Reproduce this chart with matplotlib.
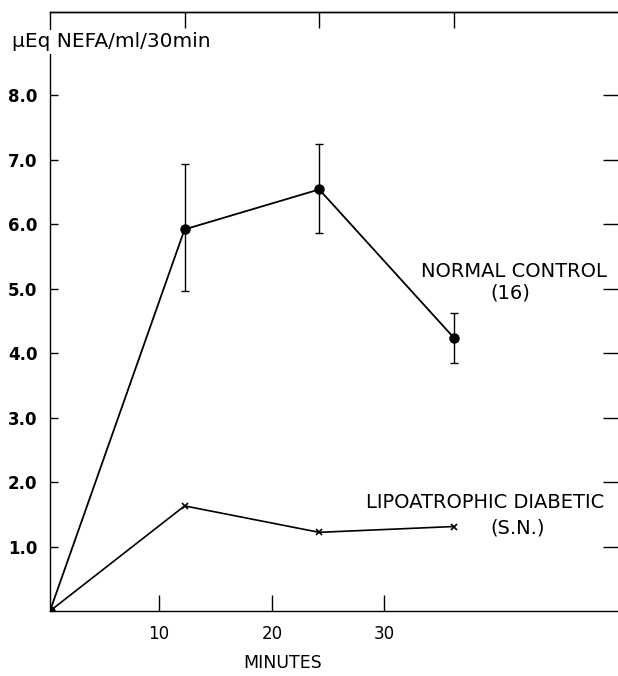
import matplotlib.pyplot as plt

# minutes after injection
minutes = [0, 10, 20, 30]

# normal control (16), mean with error bars
normal = [0.0, 5.92, 6.54, 4.24]
normal_err_low = [0.0, 0.95, 0.67, 0.40]
normal_err_high = [0.0, 1.02, 0.70, 0.39]

# lipoatrophic diabetic (S.N.)
lipo = [0.0, 1.63, 1.22, 1.31]

y_ticks = [1, 2, 3, 4, 5, 6, 7, 8]
y_labels = ['1.0', '2.0', '3.0', '4.0', '5.0', '6.0', '7.0', '8.0']
# bottom tick labels sit offset from the points in the original figure
bottom_tick_pos = [8.1, 16.5, 24.8]
bottom_tick_labels = ['10', '20', '30']
top_tick_pos = [10, 20, 30]

plt.rcParams['font.family'] = ['DejaVu Sans']

fig = plt.figure(figsize=(6.18, 6.76), dpi=100)
ax = fig.add_axes([0.0809, 0.0962, 0.9191, 0.8858])

ax.errorbar(minutes[1:], normal[1:], yerr=[normal_err_low[1:], normal_err_high[1:]],
            fmt='none', ecolor='black', elinewidth=1.0, capsize=3.2, capthick=1.0)
ax.plot(minutes, normal, color='black', lw=1.3, marker='o', ms=6.5)
ax.plot(minutes, lipo, color='black', lw=1.2, marker='x', ms=5, mew=1.2)

ax.set_xlim(0, 42.2)
ax.set_ylim(0, 9.29)

for s in ['left', 'bottom', 'top']:
    ax.spines[s].set_linewidth(1.0)
ax.spines['right'].set_visible(False)

ax.set_yticks(y_ticks)
ax.set_yticklabels(y_labels, fontsize=12, fontweight='bold')
ax.tick_params(axis='y', direction='in', length=6, width=1.0, pad=9,
               right=True)

ax.set_xticks(bottom_tick_pos)
ax.set_xticklabels(bottom_tick_labels, fontsize=12)
ax.tick_params(axis='x', direction='in', length=11.5, width=1.0, pad=10)

# right-side ticks are longer than the left ones
for t in ax.yaxis.get_major_ticks():
    t.tick2line.set_markersize(11)

top = ax.secondary_xaxis('top')
top.set_xticks(top_tick_pos)
top.set_xticklabels([])
top.tick_params(direction='in', length=11.5, width=1.0)
top.spines['top'].set_linewidth(1.0)

fig.text(0.019, 0.938, 'μEq NEFA/ml/30min', fontsize=14.5, ha='left', va='center',
         bbox=dict(facecolor='white', edgecolor='none', pad=2))

fig.text(0.458, 0.019, 'MINUTES', fontsize=12.5, ha='center', va='center')

fig.text(0.832, 0.599, 'NORMAL CONTROL', fontsize=14, ha='center', va='center')
fig.text(0.825, 0.567, '(16)', fontsize=14, ha='center', va='center')
fig.text(0.785, 0.256, 'LIPOATROPHIC DIABETIC', fontsize=14, ha='center', va='center')
fig.text(0.837, 0.219, '(S.N.)', fontsize=14, ha='center', va='center')

fig.savefig('out.png', dpi=100)
